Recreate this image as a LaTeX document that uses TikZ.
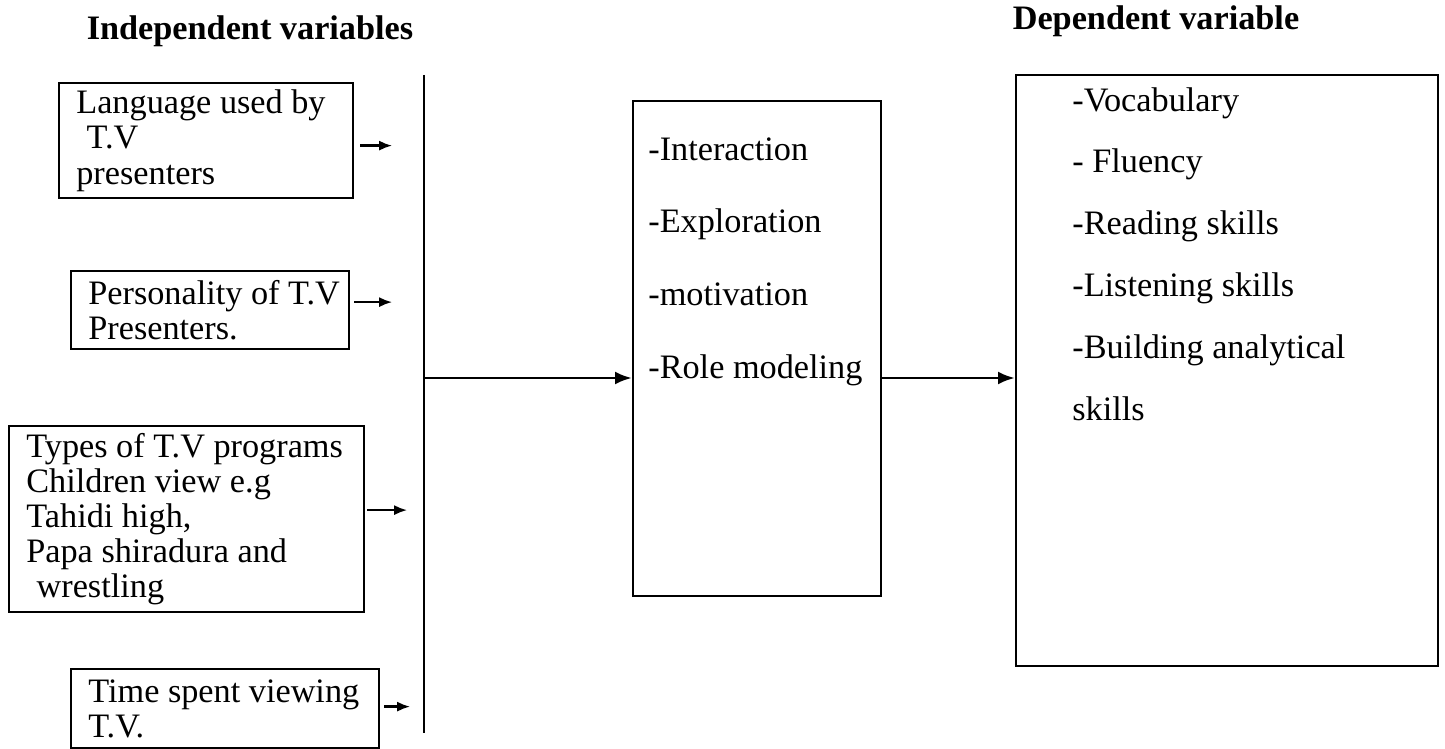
\documentclass[tikz,border=0pt]{standalone}
\usepackage{fontspec}
\setmainfont{Liberation Serif}
\usetikzlibrary{positioning,arrows.meta}

\tikzset{
  varbox/.style={draw, line width=1.3pt, anchor=north west, inner sep=0pt},
  vartext/.style={align=left, inner sep=0pt, font=\fontsize{19.5}{20}\selectfont},
  heading/.style={font=\fontsize{19.5}{20}\selectfont\bfseries, inner sep=0pt},
  smallarrow/.style={line width=1.3pt, -{Latex[length=0.26cm,width=0.2cm]}},
  mainarrow/.style={line width=1.7pt, -{Latex[length=0.34cm,width=0.26cm]}}
}

\begin{document}
\begin{tikzpicture}[x=0.02cm, y=-0.02cm]
\useasboundingbox (0,0) rectangle (1445,749);
% headings
\node[heading] (indephead) at (250,31) {Independent variables};
\node[heading] (dephead) at (1156,21) {Dependent variable};
% independent variables
\node[varbox, minimum width=5.88cm, minimum height=2.3cm] (lang) at (58,82) {};
\node[vartext, right=0.36cm of lang.west] (langtxt) {Language used by\\\hspace{0.3em}T.V\\presenters};
\node[varbox, minimum width=5.56cm, minimum height=1.56cm] (pers) at (70,270) {};
\node[vartext, right=0.36cm of pers.west] (perstxt) {Personality of T.V\\Presenters.};
\node[varbox, minimum width=7.1cm, minimum height=3.72cm] (types) at (8,425) {};
\node[vartext, right=0.36cm of types.west] (typestxt) {Types of T.V programs\\Children view e.g\\Tahidi high,\\Papa shiradura and\\\hspace{0.3em}wrestling};
\node[varbox, minimum width=6.16cm, minimum height=1.58cm] (time) at (70,668) {};
\node[vartext, right=0.36cm of time.west] (timetxt) {Time spent viewing\\T.V.};
\draw[smallarrow] ([shift={(6,5)}]lang.east) -- ++(32,0);
\draw[smallarrow] ([shift={(4,-8)}]pers.east) -- ++(38,0);
\draw[smallarrow] ([shift={(2,-9)}]types.east) -- ++(40,0);
\draw[smallarrow] ([shift={(4,-2)}]time.east) -- ++(26,0);
% collecting line
\coordinate (bartop) at (424,75);
\coordinate (barbot) at (424,733);
\coordinate (barmid) at (424,378);
\draw[line width=1.3pt] (bartop) -- (barbot);
% intervening variables
\node[varbox, minimum width=4.96cm, minimum height=9.9cm] (mid) at (632,100) {};
\node[vartext, below right=0.74cm and 0.32cm of mid.north west] (midtxt) {-Interaction\\[21.4pt]-Exploration\\[21.4pt]-motivation\\[21.4pt]-Role modeling};
% dependent variable
\node[varbox, minimum width=8.44cm, minimum height=11.82cm] (outcome) at (1015,74) {};
\node[vartext, below right=0.26cm and 1.14cm of outcome.north west] (outtxt) {-Vocabulary\\[15.2pt]- Fluency\\[15.2pt]-Reading skills\\[15.2pt]-Listening skills\\[15.2pt]-Building analytical\\[15.2pt]skills};
\draw[mainarrow] (barmid) -- (mid.west |- barmid);
\draw[mainarrow] (mid.east |- barmid) -- (outcome.west |- barmid);
\end{tikzpicture}
\end{document}
